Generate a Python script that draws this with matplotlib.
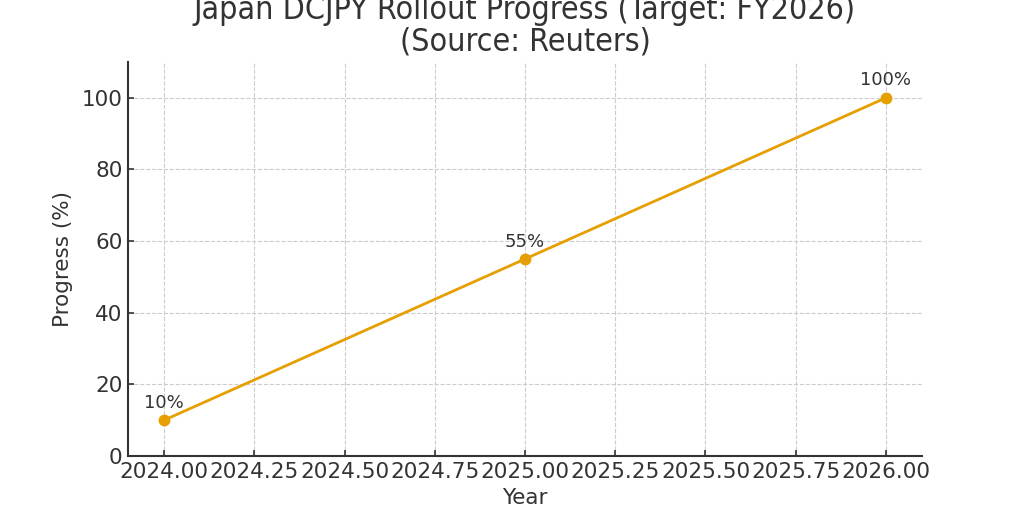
import matplotlib
matplotlib.use("Agg")
import matplotlib.pyplot as plt

years = [2024, 2025, 2026]
progress = [10, 55, 100]
labels = ["10%", "55%", "100%"]

TXT = "#333333"
fig = plt.figure(figsize=(10.24, 5.12), dpi=100)
ax = fig.add_axes([128/1024, 1-456/512, (922-128)/1024, (456-62)/512])

ax.plot(years, progress, color="#E69F00", linewidth=2, marker="o", markersize=7.5, zorder=3)
for x, y, t in zip(years, progress, labels):
    ax.annotate(t, (x, y), xytext=(0, 6), textcoords="offset points",
                ha="center", va="bottom", fontsize=13, color=TXT)

ax.set_xlim(2023.9, 2026.1)
ax.set_ylim(0, 110)
ax.set_xticks([2024 + 0.25*i for i in range(9)])
ax.set_xticklabels([f"{2024 + 0.25*i:.2f}" for i in range(9)])
ax.set_yticks([0, 20, 40, 60, 80, 100])
ax.grid(True, linestyle="--", color="#cccccc", linewidth=0.8)
ax.set_axisbelow(True)
for s in ["top", "right"]:
    ax.spines[s].set_visible(False)
for s in ["left", "bottom"]:
    ax.spines[s].set_color(TXT)
    ax.spines[s].set_linewidth(1.5)
ax.tick_params(axis="both", direction="in", labelsize=15.5, colors=TXT, length=4.5, width=1.2, pad=4)
ax.set_xlabel("Year", fontsize=15.5, color=TXT, labelpad=5)
ax.set_ylabel("Progress (%)", fontsize=15.5, color=TXT, labelpad=6)
ax.set_title("Japan DCJPY Rollout Progress (Target: FY2026)\n(Source: Reuters)",
             fontsize=23, color=TXT, fontstretch="condensed", linespacing=1.05, pad=8)

fig.savefig("out.png", dpi=100)
